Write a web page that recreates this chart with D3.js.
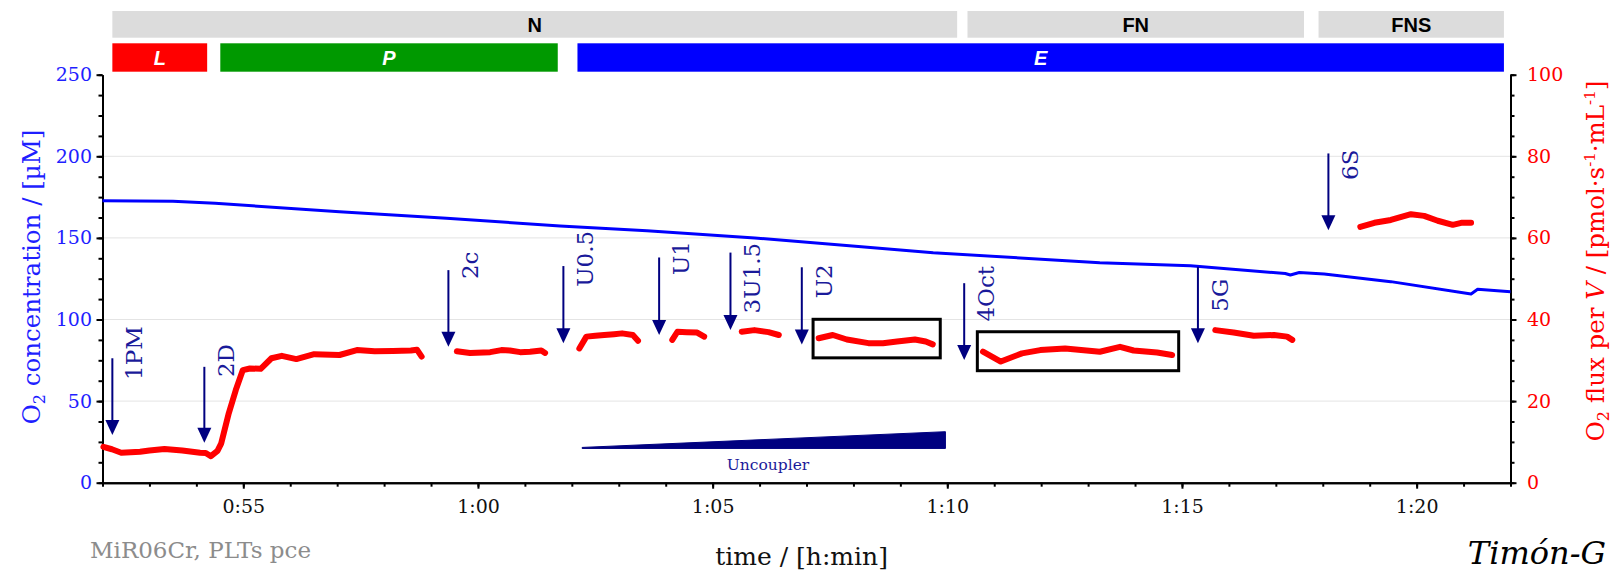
<!DOCTYPE html>
<html><head><meta charset="utf-8">
<script src="https://cdn.jsdelivr.net/npm/d3@7"></script>
<style>body{margin:0;background:#fff;} svg{display:block}</style>
</head><body>
<svg id="chart" width="1614" height="576"></svg>
<script>
// ---------------- data ----------------
const xTickMinutes = [55, 60, 65, 70, 75, 80];
const xTickLabels = ["0:55", "1:00", "1:05", "1:10", "1:15", "1:20"];
const leftTicks = [0, 50, 100, 150, 200, 250];
const rightTicks = [0, 20, 40, 60, 80, 100];

// O2 concentration (µM) vs time (min)
const o2Time = [52.0, 53.5, 54.4, 57.05, 59.33, 61.75, 63.6, 65.9, 68.17, 69.7, 73.25, 75.18, 77.2, 77.31, 77.5, 78.03, 79.45, 81.16, 81.3, 82.0];
const o2Conc = [172.8, 172.5, 171.2, 166.0, 162.0, 157.3, 154.4, 150.0, 144.6, 140.9, 134.8, 133.0, 128.2, 127.3, 128.8, 127.9, 123.2, 115.6, 118.5, 117.0];

// O2 flux per V segments [time(min), flux]
const fluxSeg1 = [[52.02,8.8],[52.2,8.2],[52.4,7.35],[52.8,7.6],[53.0,7.9],[53.32,8.26],[53.7,7.9],[54.08,7.35],[54.2,7.3],[54.31,6.5],[54.45,7.8],[54.53,9.65],[54.69,17],[54.84,22.7],[54.99,27.6],[55.14,28.0],[55.37,27.9],[55.6,30.5],[55.82,31.1],[56.13,30.3],[56.51,31.5],[57.05,31.3],[57.42,32.5],[57.8,32.2],[58.19,32.3],[58.57,32.4],[58.7,32.6],[58.8,30.9]];
const fluxSeg2 = [[59.55,32.2],[59.83,31.8],[60.26,32.0],[60.5,32.5],[60.68,32.4],[60.9,32.0],[61.11,32.1],[61.35,32.4],[61.43,31.8]];
const fluxSeg3 = [[62.16,32.9],[62.31,35.8],[62.5,36.0],[62.69,36.2],[62.9,36.4],[63.07,36.6],[63.3,36.2],[63.41,34.8]];
const fluxSeg4 = [[64.14,35.0],[64.25,37.0],[64.45,36.9],[64.67,36.8],[64.82,35.8]];
const fluxSeg5 = [[65.62,37.0],[65.89,37.4],[66.19,36.9],[66.41,36.2]];
const fluxSeg6 = [[67.26,35.4],[67.56,36.2],[67.86,35.1],[68.32,34.2],[68.63,34.2],[68.93,34.6],[69.31,35.1],[69.54,34.6],[69.69,33.9]];
const fluxSeg7 = [[70.76,32.1],[71.14,29.7],[71.59,31.7],[71.98,32.5],[72.51,32.9],[73.25,32.1],[73.68,33.3],[73.97,32.4],[74.47,31.9],[74.79,31.3]];
const fluxSeg8 = [[75.71,37.4],[76.1,36.8],[76.53,36.0],[76.96,36.2],[77.24,35.8],[77.35,35.0]];
const fluxSeg9 = [[78.8,62.7],[79.1,63.7],[79.45,64.4],[79.88,65.8],[80.16,65.4],[80.45,64.2],[80.77,63.2],[80.95,63.7],[81.16,63.7]];

// titration events (time in min; arrow extents in flux units)
const eventLabels = ["1PM","2D","2c","U0.5","U1","3U1.5","U2","4Oct","5G","6S"];
const eventTimes  = [52.21, 54.17, 59.37, 61.82, 63.86, 65.38, 66.90, 70.36, 75.34, 78.12];
const arrowTop    = [30.5, 28.4, 52.1, 53.1, 55.2, 56.4, 52.8, 48.9, 52.9, 80.7];
const arrowTip    = [11.7, 9.8, 33.3, 34.2, 36.2, 37.4, 33.9, 30.1, 34.2, 61.9];
const labelBase   = [25.2, 25.9, 49.9, 48.0, 50.9, 41.5, 45.2, 39.5, 41.9, 74.2];

// pathway states (top grey bars) and coupling states (coloured bars)
const stateLabels = ["N", "FN", "FNS"];
const stateStart  = [52.21, 70.43, 77.91];
const stateEnd    = [70.21, 77.60, 81.86];
const phaseLabels = ["L", "P", "E"];
const phaseStart  = [52.21, 54.51, 62.12];
const phaseEnd    = [54.23, 61.70, 81.86];

// highlight boxes (time, flux)
const boxStart  = [67.14, 70.64];
const boxEnd    = [69.85, 74.93];
const boxTop    = [40.05, 37.0];
const boxBottom = [30.6, 27.45];

// uncoupler wedge (time, flux)
const wedgeTime = [62.22, 69.96];
const wedgeFlux = [8.4, 12.5];

// ---------------- drawing ----------------
const svg = d3.select("#chart");
const serif = "DejaVu Serif";
const sans = "Liberation Sans";
const blue = "#1f1fff", red = "#ff0000", navy = "#000080", navyText = "#1a1a9a";

const x = d3.scaleLinear().domain([52, 82]).range([102.5, 1510.5]);
const yL = d3.scaleLinear().domain([0, 250]).range([482.7, 74.7]);
const yR = d3.scaleLinear().domain([0, 100]).range([482.7, 74.7]);

// gridlines
svg.append("g").selectAll("line").data([50, 100, 150, 200]).join("line")
  .attr("x1", x(52)).attr("x2", x(82))
  .attr("y1", d => yL(d)).attr("y2", d => yL(d))
  .attr("stroke", "#c8c8c8").attr("stroke-width", 1).attr("stroke-dasharray", "1,1");

// top bars
const phaseColors = ["#ff0000", "#009900", "#0000ff"];
const gTop = svg.append("g");
stateLabels.forEach((s, i) => {
  gTop.append("rect").attr("x", x(stateStart[i])).attr("y", 11)
    .attr("width", x(stateEnd[i]) - x(stateStart[i])).attr("height", 26.7).attr("fill", "#dcdcdc");
  gTop.append("text").attr("x", (x(stateStart[i]) + x(stateEnd[i])) / 2).attr("y", 32)
    .attr("text-anchor", "middle").attr("font-family", sans).attr("font-weight", "bold")
    .attr("font-size", 20).attr("fill", "#000").text(s);
});
phaseLabels.forEach((s, i) => {
  gTop.append("rect").attr("x", x(phaseStart[i])).attr("y", 43.3)
    .attr("width", x(phaseEnd[i]) - x(phaseStart[i])).attr("height", 28.4).attr("fill", phaseColors[i]);
  gTop.append("text").attr("x", (x(phaseStart[i]) + x(phaseEnd[i])) / 2).attr("y", 65)
    .attr("text-anchor", "middle").attr("font-family", sans).attr("font-weight", "bold")
    .attr("font-style", "italic").attr("font-size", 20).attr("fill", "#fff").text(s);
});

// axes
function styleAxis(g, color) {
  g.select(".domain").attr("stroke", "#000").attr("stroke-width", 2);
  g.selectAll(".tick line").attr("stroke", "#000").attr("stroke-width", 2);
  g.selectAll(".tick text").attr("fill", color).attr("font-family", serif).attr("font-size", 19);
}
// minor ticks
const minorX = d3.range(52, 82.01, 1);
svg.append("g").attr("transform", `translate(0,${yL(0)})`)
  .call(d3.axisBottom(x).tickValues(minorX).tickSize(4).tickSizeOuter(0).tickFormat(""))
  .call(g => styleAxis(g, "#000"));
svg.append("g").attr("transform", `translate(${x(52)},0)`)
  .call(d3.axisLeft(yL).tickValues(d3.range(0, 250.01, 12.5)).tickSize(4).tickSizeOuter(0).tickFormat(""))
  .call(g => styleAxis(g, blue));
svg.append("g").attr("transform", `translate(${x(82)},0)`)
  .call(d3.axisRight(yR).tickValues(d3.range(0, 100.01, 5)).tickSize(4).tickSizeOuter(0).tickFormat(""))
  .call(g => styleAxis(g, red));
// major ticks + labels
const gx = svg.append("g").attr("transform", `translate(0,${yL(0)})`)
  .call(d3.axisBottom(x).tickValues(xTickMinutes).tickFormat((d, i) => xTickLabels[i]).tickSize(6).tickSizeOuter(0))
  .call(g => styleAxis(g, "#000"));
gx.selectAll(".tick text").attr("dy", null).attr("y", 30).attr("fill", "#111");
svg.append("g").attr("transform", `translate(${x(52)},0)`)
  .call(d3.axisLeft(yL).tickValues(leftTicks).tickSize(6).tickPadding(4.5).tickSizeOuter(0))
  .call(g => styleAxis(g, blue));
svg.append("g").attr("transform", `translate(${x(82)},0)`)
  .call(d3.axisRight(yR).tickValues(rightTicks).tickSize(6).tickPadding(10.5).tickSizeOuter(0))
  .call(g => styleAxis(g, red));

// O2 concentration line
const o2Data = o2Time.map((t, i) => [t, o2Conc[i]]);
svg.append("path").datum(o2Data)
  .attr("d", d3.line().x(d => x(d[0])).y(d => yL(d[1])))
  .attr("fill", "none").attr("stroke", "#0000ff").attr("stroke-width", 3).attr("stroke-linejoin", "round");

// flux segments
const fluxLine = d3.line().x(d => x(d[0])).y(d => yR(d[1]));
const segs = [fluxSeg1, fluxSeg2, fluxSeg3, fluxSeg4, fluxSeg5, fluxSeg6, fluxSeg7, fluxSeg8, fluxSeg9];
svg.append("g").selectAll("path").data(segs).join("path")
  .attr("d", fluxLine).attr("fill", "none").attr("stroke", red).attr("stroke-width", 6)
  .attr("stroke-linecap", "round").attr("stroke-linejoin", "round");

// boxes
boxStart.forEach((b, i) => {
  svg.append("rect").attr("x", x(b)).attr("y", yR(boxTop[i]))
    .attr("width", x(boxEnd[i]) - x(b)).attr("height", yR(boxBottom[i]) - yR(boxTop[i]))
    .attr("fill", "none").attr("stroke", "#000").attr("stroke-width", 3);
});

// arrows
const gA = svg.append("g");
eventLabels.forEach((lab, i) => {
  const ax = x(eventTimes[i]);
  const tipY = yR(arrowTip[i]);
  gA.append("line").attr("x1", ax).attr("x2", ax).attr("y1", yR(arrowTop[i])).attr("y2", tipY - 12)
    .attr("stroke", navy).attr("stroke-width", 2);
  gA.append("path").attr("d", `M${ax - 7},${tipY - 15}L${ax + 7},${tipY - 15}L${ax},${tipY}Z`).attr("fill", navy);
  gA.append("text").attr("transform", `translate(${ax + 30},${yR(labelBase[i])}) rotate(-90)`)
    .attr("font-family", serif).attr("font-size", 23).attr("fill", navyText).text(lab);
});

// uncoupler wedge
svg.append("path")
  .attr("d", `M${x(wedgeTime[0])},${yR(wedgeFlux[0]) - 1}L${x(wedgeTime[1])},${yR(wedgeFlux[1])}L${x(wedgeTime[1])},${yR(wedgeFlux[0])}L${x(wedgeTime[0])},${yR(wedgeFlux[0])}Z`)
  .attr("fill", navy).attr("stroke", navy).attr("stroke-width", 1);
svg.append("text").attr("x", x(66.18)).attr("y", yR(3.1)).attr("text-anchor", "middle")
  .attr("font-family", serif).attr("font-size", 15.5).attr("fill", navyText).text("Uncoupler");

// axis titles
const lt = svg.append("text").attr("transform", "translate(39.5,277) rotate(-90)")
  .attr("text-anchor", "middle").attr("font-family", serif).attr("font-size", 24.5).attr("fill", blue);
lt.append("tspan").text("O");
lt.append("tspan").attr("font-size", 16).attr("dy", 5).text("2");
lt.append("tspan").attr("dy", -5).text(" concentration / [µM]");

const rt = svg.append("text").attr("transform", "translate(1604,261) rotate(-90)")
  .attr("text-anchor", "middle").attr("font-family", serif).attr("font-size", 24.5).attr("fill", red);
rt.append("tspan").text("O");
rt.append("tspan").attr("font-size", 16).attr("dy", 5).text("2");
rt.append("tspan").attr("dy", -5).text(" flux per ");
rt.append("tspan").attr("font-style", "italic").text("V");
rt.append("tspan").text(" / [pmol·s");
rt.append("tspan").attr("font-size", 15).attr("dy", -9).text("-1");
rt.append("tspan").attr("dy", 9).text("·mL");
rt.append("tspan").attr("font-size", 15).attr("dy", -9).text("-1");
rt.append("tspan").attr("dy", 9).text("]");

svg.append("text").attr("x", 801.6).attr("y", 565).attr("text-anchor", "middle")
  .attr("font-family", serif).attr("font-size", 25).attr("fill", "#111").text("time / [h:min]");
svg.append("text").attr("x", 90).attr("y", 558)
  .attr("font-family", serif).attr("font-size", 23).attr("fill", "#8c8c8c").text("MiR06Cr, PLTs pce");
svg.append("text").attr("x", 1606).attr("y", 564).attr("text-anchor", "end")
  .attr("font-family", serif).attr("font-style", "italic").attr("font-size", 32).attr("fill", "#000").text("Timón-G");
</script>
</body></html>
